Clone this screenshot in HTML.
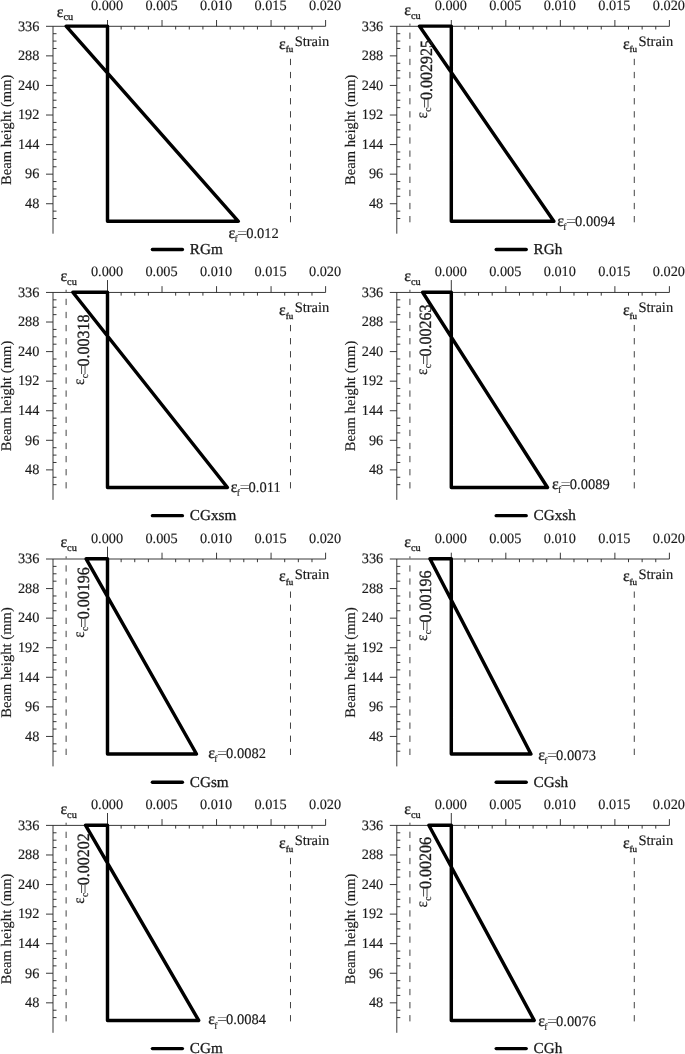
<!DOCTYPE html>
<html lang="en">
<head>
<meta charset="utf-8">
<title>Strain distribution</title>
<style>
html,body{margin:0;padding:0;background:#fff;}
body{width:685px;height:1054px;overflow:hidden;}
svg{display:block;}
text{font-family:"Liberation Serif","DejaVu Serif",serif;font-size:14.5px;fill:#1a1a1a;text-rendering:geometricPrecision;stroke:#1a1a1a;stroke-width:0.15px;}
.eps{font-size:16px;stroke-width:0.3px;}
.sub{font-size:10.3px;}
.ti{font-size:14.65px;}
.lgt{font-size:15.2px;stroke-width:0.3px;}
.tk{font-size:14.3px;}
.eq{stroke:none;fill:#333;}
.subfu{font-size:9px;}
.subf{font-size:9.5px;}
.subc{font-size:9.5px;}
.epr{font-size:15px;}
.n{font-size:14.5px;}
.ax{stroke:#222;stroke-width:0.9;fill:none;}
.da{stroke:#444;stroke-width:1;fill:none;stroke-dasharray:6.3 6.8;}
.pl{stroke:#000;stroke-width:3.45;fill:none;stroke-linejoin:round;}
.lg{stroke:#000;stroke-width:3.4;fill:none;stroke-linecap:round;}
</style>
</head>
<body>
<svg width="685" height="1054" viewBox="0 0 685 1054">
<rect width="685" height="1054" fill="#fff"/>
<g>
<path class="ax" d="M46 26.3H325.6M53 26.3V233.7"/>
<path class="ax" d="M107.5 26.3v-6.3M162.03 26.3v-6.3M216.55 26.3v-6.3M271.07 26.3v-6.3M325.6 26.3v-6.3M121.13 26.3v3.2M134.76 26.3v3.2M148.39 26.3v3.2M175.66 26.3v3.2M189.29 26.3v3.2M202.92 26.3v3.2M230.18 26.3v3.2M243.81 26.3v3.2M257.44 26.3v3.2M284.71 26.3v3.2M298.34 26.3v3.2M311.97 26.3v3.2M53 55.87h-7M53 85.45h-7M53 115.02h-7M53 144.59h-7M53 174.16h-7M53 203.74h-7M53 33.69h3.5M53 41.09h3.5M53 48.48h3.5M53 63.27h3.5M53 70.66h3.5M53 78.05h3.5M53 92.84h3.5M53 100.23h3.5M53 107.63h3.5M53 122.41h3.5M53 129.8h3.5M53 137.2h3.5M53 151.98h3.5M53 159.38h3.5M53 166.77h3.5M53 181.56h3.5M53 188.95h3.5M53 196.34h3.5M53 211.13h3.5M53 218.52h3.5"/>
<text x="107" y="10.2" text-anchor="middle" class="tk">0.000</text>
<text x="161.53" y="10.2" text-anchor="middle" class="tk">0.005</text>
<text x="216.05" y="10.2" text-anchor="middle" class="tk">0.010</text>
<text x="270.57" y="10.2" text-anchor="middle" class="tk">0.015</text>
<text x="325.1" y="10.2" text-anchor="middle" class="tk">0.020</text>
<text x="39.4" y="30.6" text-anchor="end" class="tk">336</text>
<text x="39.4" y="60.17" text-anchor="end" class="tk">288</text>
<text x="39.4" y="89.75" text-anchor="end" class="tk">240</text>
<text x="39.4" y="119.32" text-anchor="end" class="tk">192</text>
<text x="39.4" y="148.89" text-anchor="end" class="tk">144</text>
<text x="39.4" y="178.46" text-anchor="end" class="tk">96</text>
<text x="39.4" y="208.04" text-anchor="end" class="tk">48</text>
<text transform="translate(11 129.8) rotate(-90)" text-anchor="middle" class="ti">Beam height (mm)</text>
<text x="294.7" y="45.8">Strain</text>
<text x="279.1" y="48.5" class="eps">ε<tspan class="subfu" dy="3.9">fu</tspan></text>
<text x="56.7" y="16.7" class="eps">ε<tspan class="sub" dy="3.5">cu</tspan></text>
<path class="da" d="M290.49 58.8V222.3"/>
<path class="pl" d="M107.5 26.1H66.12L238.36 221.3H107.5Z"/>
<g transform="translate(229 237.7)"><text x="-0.62" y="0" class="eps">ε</text><text x="5.4" y="4.3" class="subf">f</text><text transform="translate(8 0) scale(1.25 1)" class="eq">=</text><text x="17.2" y="0">0.012</text></g>
<path class="lg" d="M152.4 249.5h30"/>
<text x="189.8" y="254.2" class="lgt">RGm</text>
</g>
<g>
<path class="ax" d="M389.8 26.3H669.4M396.8 26.3V233.7"/>
<path class="ax" d="M451.3 26.3v-6.3M505.82 26.3v-6.3M560.35 26.3v-6.3M614.88 26.3v-6.3M669.4 26.3v-6.3M464.93 26.3v3.2M478.56 26.3v3.2M492.19 26.3v3.2M519.46 26.3v3.2M533.09 26.3v3.2M546.72 26.3v3.2M573.98 26.3v3.2M587.61 26.3v3.2M601.24 26.3v3.2M628.51 26.3v3.2M642.14 26.3v3.2M655.77 26.3v3.2M396.8 55.87h-7M396.8 85.45h-7M396.8 115.02h-7M396.8 144.59h-7M396.8 174.16h-7M396.8 203.74h-7M396.8 33.69h3.5M396.8 41.09h3.5M396.8 48.48h3.5M396.8 63.27h3.5M396.8 70.66h3.5M396.8 78.05h3.5M396.8 92.84h3.5M396.8 100.23h3.5M396.8 107.63h3.5M396.8 122.41h3.5M396.8 129.8h3.5M396.8 137.2h3.5M396.8 151.98h3.5M396.8 159.38h3.5M396.8 166.77h3.5M396.8 181.56h3.5M396.8 188.95h3.5M396.8 196.34h3.5M396.8 211.13h3.5M396.8 218.52h3.5"/>
<text x="450.8" y="10.2" text-anchor="middle" class="tk">0.000</text>
<text x="505.32" y="10.2" text-anchor="middle" class="tk">0.005</text>
<text x="559.85" y="10.2" text-anchor="middle" class="tk">0.010</text>
<text x="614.38" y="10.2" text-anchor="middle" class="tk">0.015</text>
<text x="668.9" y="10.2" text-anchor="middle" class="tk">0.020</text>
<text x="383.2" y="30.6" text-anchor="end" class="tk">336</text>
<text x="383.2" y="60.17" text-anchor="end" class="tk">288</text>
<text x="383.2" y="89.75" text-anchor="end" class="tk">240</text>
<text x="383.2" y="119.32" text-anchor="end" class="tk">192</text>
<text x="383.2" y="148.89" text-anchor="end" class="tk">144</text>
<text x="383.2" y="178.46" text-anchor="end" class="tk">96</text>
<text x="383.2" y="208.04" text-anchor="end" class="tk">48</text>
<text transform="translate(354.8 129.8) rotate(-90)" text-anchor="middle" class="ti">Beam height (mm)</text>
<text x="638.5" y="45.8">Strain</text>
<text x="622.9" y="48.5" class="eps">ε<tspan class="subfu" dy="3.9">fu</tspan></text>
<text x="404.2" y="14.7" class="eps">ε<tspan class="sub" dy="3.8">cu</tspan></text>
<path class="da" d="M634.29 58.8V222.3"/>
<path class="da" style="stroke-dashoffset:4.1" d="M409.92 23.6V222.3"/>
<path class="pl" d="M451.3 26.1H419.4L553.81 221.3H451.3Z"/>
<g transform="translate(557.9 225.8)"><text x="-0.62" y="0" class="eps">ε</text><text x="5.4" y="4.3" class="subf">f</text><text transform="translate(8 0) scale(1.25 1)" class="eq">=</text><text x="17.2" y="0">0.0094</text></g>
<g transform="translate(431.8 117.8) rotate(-90) scale(1 1.07)"><text x="-0.58" y="-4.2" class="epr">ε</text><text x="6.1" y="-0.3" class="subc">c</text><text transform="translate(9.3 0) scale(1.1 1)" class="eps eq">=</text><text x="17.9" y="0" class="eps">0.002925</text></g>
<path class="lg" d="M496.2 249.5h30"/>
<text x="533.6" y="254.2" class="lgt">RGh</text>
</g>
<g>
<path class="ax" d="M46 292.45H325.6M53 292.45V499.85"/>
<path class="ax" d="M107.5 292.45v-12.4M162.03 292.45v-6.3M216.55 292.45v-6.3M271.07 292.45v-6.3M325.6 292.45v-6.3M121.13 292.45v3.2M134.76 292.45v3.2M148.39 292.45v3.2M175.66 292.45v3.2M189.29 292.45v3.2M202.92 292.45v3.2M230.18 292.45v3.2M243.81 292.45v3.2M257.44 292.45v3.2M284.71 292.45v3.2M298.34 292.45v3.2M311.97 292.45v3.2M53 322.02h-7M53 351.6h-7M53 381.17h-7M53 410.74h-7M53 440.31h-7M53 469.89h-7M53 299.84h3.5M53 307.24h3.5M53 314.63h3.5M53 329.42h3.5M53 336.81h3.5M53 344.2h3.5M53 358.99h3.5M53 366.38h3.5M53 373.78h3.5M53 388.56h3.5M53 395.95h3.5M53 403.35h3.5M53 418.13h3.5M53 425.53h3.5M53 432.92h3.5M53 447.71h3.5M53 455.1h3.5M53 462.49h3.5M53 477.28h3.5M53 484.67h3.5"/>
<text x="107" y="276.35" text-anchor="middle" class="tk">0.000</text>
<text x="161.53" y="276.35" text-anchor="middle" class="tk">0.005</text>
<text x="216.05" y="276.35" text-anchor="middle" class="tk">0.010</text>
<text x="270.57" y="276.35" text-anchor="middle" class="tk">0.015</text>
<text x="325.1" y="276.35" text-anchor="middle" class="tk">0.020</text>
<text x="39.4" y="296.75" text-anchor="end" class="tk">336</text>
<text x="39.4" y="326.32" text-anchor="end" class="tk">288</text>
<text x="39.4" y="355.9" text-anchor="end" class="tk">240</text>
<text x="39.4" y="385.47" text-anchor="end" class="tk">192</text>
<text x="39.4" y="415.04" text-anchor="end" class="tk">144</text>
<text x="39.4" y="444.61" text-anchor="end" class="tk">96</text>
<text x="39.4" y="474.19" text-anchor="end" class="tk">48</text>
<text transform="translate(11 395.95) rotate(-90)" text-anchor="middle" class="ti">Beam height (mm)</text>
<text x="294.7" y="311.95">Strain</text>
<text x="279.1" y="314.65" class="eps">ε<tspan class="subfu" dy="3.9">fu</tspan></text>
<text x="60.4" y="280.85" class="eps">ε<tspan class="sub" dy="3.8">cu</tspan></text>
<path class="da" d="M290.49 324.95V488.45"/>
<path class="da" style="stroke-dashoffset:4.1" d="M66.12 289.75V488.45"/>
<path class="pl" d="M107.5 292.25H72.82L227.45 487.45H107.5Z"/>
<g transform="translate(231.4 491.8)"><text x="-0.62" y="0" class="eps">ε</text><text x="5.4" y="4.3" class="subf">f</text><text transform="translate(8 0) scale(1.25 1)" class="eq">=</text><text x="17.2" y="0">0.011</text></g>
<g transform="translate(88.6 384.3) rotate(-90) scale(1 1.07)"><text x="-0.58" y="-4.2" class="epr">ε</text><text x="6.1" y="-0.3" class="subc">c</text><text transform="translate(9.3 0) scale(1.1 1)" class="eps eq">=</text><text x="17.9" y="0" class="eps">0.00318</text></g>
<path class="lg" d="M152.4 515.65h30"/>
<text x="189.8" y="520.35" class="lgt">CGxsm</text>
</g>
<g>
<path class="ax" d="M389.8 292.45H669.4M396.8 292.45V499.85"/>
<path class="ax" d="M451.3 292.45v-12.4M505.82 292.45v-6.3M560.35 292.45v-6.3M614.88 292.45v-6.3M669.4 292.45v-6.3M464.93 292.45v3.2M478.56 292.45v3.2M492.19 292.45v3.2M519.46 292.45v3.2M533.09 292.45v3.2M546.72 292.45v3.2M573.98 292.45v3.2M587.61 292.45v3.2M601.24 292.45v3.2M628.51 292.45v3.2M642.14 292.45v3.2M655.77 292.45v3.2M396.8 322.02h-7M396.8 351.6h-7M396.8 381.17h-7M396.8 410.74h-7M396.8 440.31h-7M396.8 469.89h-7M396.8 299.84h3.5M396.8 307.24h3.5M396.8 314.63h3.5M396.8 329.42h3.5M396.8 336.81h3.5M396.8 344.2h3.5M396.8 358.99h3.5M396.8 366.38h3.5M396.8 373.78h3.5M396.8 388.56h3.5M396.8 395.95h3.5M396.8 403.35h3.5M396.8 418.13h3.5M396.8 425.53h3.5M396.8 432.92h3.5M396.8 447.71h3.5M396.8 455.1h3.5M396.8 462.49h3.5M396.8 477.28h3.5M396.8 484.67h3.5"/>
<text x="450.8" y="276.35" text-anchor="middle" class="tk">0.000</text>
<text x="505.32" y="276.35" text-anchor="middle" class="tk">0.005</text>
<text x="559.85" y="276.35" text-anchor="middle" class="tk">0.010</text>
<text x="614.38" y="276.35" text-anchor="middle" class="tk">0.015</text>
<text x="668.9" y="276.35" text-anchor="middle" class="tk">0.020</text>
<text x="383.2" y="296.75" text-anchor="end" class="tk">336</text>
<text x="383.2" y="326.32" text-anchor="end" class="tk">288</text>
<text x="383.2" y="355.9" text-anchor="end" class="tk">240</text>
<text x="383.2" y="385.47" text-anchor="end" class="tk">192</text>
<text x="383.2" y="415.04" text-anchor="end" class="tk">144</text>
<text x="383.2" y="444.61" text-anchor="end" class="tk">96</text>
<text x="383.2" y="474.19" text-anchor="end" class="tk">48</text>
<text transform="translate(354.8 395.95) rotate(-90)" text-anchor="middle" class="ti">Beam height (mm)</text>
<text x="638.5" y="311.95">Strain</text>
<text x="622.9" y="314.65" class="eps">ε<tspan class="subfu" dy="3.9">fu</tspan></text>
<text x="404.2" y="280.85" class="eps">ε<tspan class="sub" dy="3.8">cu</tspan></text>
<path class="da" d="M634.29 324.95V488.45"/>
<path class="da" style="stroke-dashoffset:4.1" d="M409.92 289.75V488.45"/>
<path class="pl" d="M451.3 292.25H422.62L547.48 487.45H451.3Z"/>
<g transform="translate(552.6 488.6)"><text x="-0.62" y="0" class="eps">ε</text><text x="5.4" y="4.3" class="subf">f</text><text transform="translate(8 0) scale(1.25 1)" class="eq">=</text><text x="17.2" y="0">0.0089</text></g>
<g transform="translate(431.4 374.4) rotate(-90) scale(1 1.07)"><text x="-0.58" y="-4.2" class="epr">ε</text><text x="6.1" y="-0.3" class="subc">c</text><text transform="translate(9.3 0) scale(1.1 1)" class="eps eq">=</text><text x="17.9" y="0" class="eps">0.00263</text></g>
<path class="lg" d="M496.2 515.65h30"/>
<text x="533.6" y="520.35" class="lgt">CGxsh</text>
</g>
<g>
<path class="ax" d="M46 559H325.6M53 559V766.4"/>
<path class="ax" d="M107.5 559v-12.4M162.03 559v-6.3M216.55 559v-6.3M271.07 559v-6.3M325.6 559v-6.3M121.13 559v3.2M134.76 559v3.2M148.39 559v3.2M175.66 559v3.2M189.29 559v3.2M202.92 559v3.2M230.18 559v3.2M243.81 559v3.2M257.44 559v3.2M284.71 559v3.2M298.34 559v3.2M311.97 559v3.2M53 588.57h-7M53 618.15h-7M53 647.72h-7M53 677.29h-7M53 706.86h-7M53 736.44h-7M53 566.39h3.5M53 573.79h3.5M53 581.18h3.5M53 595.97h3.5M53 603.36h3.5M53 610.75h3.5M53 625.54h3.5M53 632.93h3.5M53 640.33h3.5M53 655.11h3.5M53 662.5h3.5M53 669.9h3.5M53 684.68h3.5M53 692.08h3.5M53 699.47h3.5M53 714.26h3.5M53 721.65h3.5M53 729.04h3.5M53 743.83h3.5M53 751.22h3.5"/>
<text x="107" y="542.9" text-anchor="middle" class="tk">0.000</text>
<text x="161.53" y="542.9" text-anchor="middle" class="tk">0.005</text>
<text x="216.05" y="542.9" text-anchor="middle" class="tk">0.010</text>
<text x="270.57" y="542.9" text-anchor="middle" class="tk">0.015</text>
<text x="325.1" y="542.9" text-anchor="middle" class="tk">0.020</text>
<text x="39.4" y="563.3" text-anchor="end" class="tk">336</text>
<text x="39.4" y="592.87" text-anchor="end" class="tk">288</text>
<text x="39.4" y="622.45" text-anchor="end" class="tk">240</text>
<text x="39.4" y="652.02" text-anchor="end" class="tk">192</text>
<text x="39.4" y="681.59" text-anchor="end" class="tk">144</text>
<text x="39.4" y="711.16" text-anchor="end" class="tk">96</text>
<text x="39.4" y="740.74" text-anchor="end" class="tk">48</text>
<text transform="translate(11 662.5) rotate(-90)" text-anchor="middle" class="ti">Beam height (mm)</text>
<text x="294.7" y="578.5">Strain</text>
<text x="279.1" y="581.2" class="eps">ε<tspan class="subfu" dy="3.9">fu</tspan></text>
<text x="60.4" y="547.4" class="eps">ε<tspan class="sub" dy="3.8">cu</tspan></text>
<path class="da" d="M290.49 591.5V755"/>
<path class="da" style="stroke-dashoffset:4.1" d="M66.12 556.3V755"/>
<path class="pl" d="M107.5 558.8H86.13L196.48 754H107.5Z"/>
<g transform="translate(208.9 757.8)"><text x="-0.62" y="0" class="eps">ε</text><text x="5.4" y="4.3" class="subf">f</text><text transform="translate(8 0) scale(1.25 1)" class="eq">=</text><text x="17.2" y="0">0.0082</text></g>
<g transform="translate(88.6 637.2) rotate(-90) scale(1 1.07)"><text x="-0.58" y="-4.2" class="epr">ε</text><text x="6.1" y="-0.3" class="subc">c</text><text transform="translate(9.3 0) scale(1.1 1)" class="eps eq">=</text><text x="17.9" y="0" class="eps">0.00196</text></g>
<path class="lg" d="M152.4 782.2h30"/>
<text x="189.8" y="786.9" class="lgt">CGsm</text>
</g>
<g>
<path class="ax" d="M389.8 559H669.4M396.8 559V766.4"/>
<path class="ax" d="M451.3 559v-6.3M505.82 559v-6.3M560.35 559v-6.3M614.88 559v-6.3M669.4 559v-6.3M464.93 559v3.2M478.56 559v3.2M492.19 559v3.2M519.46 559v3.2M533.09 559v3.2M546.72 559v3.2M573.98 559v3.2M587.61 559v3.2M601.24 559v3.2M628.51 559v3.2M642.14 559v3.2M655.77 559v3.2M396.8 588.57h-7M396.8 618.15h-7M396.8 647.72h-7M396.8 677.29h-7M396.8 706.86h-7M396.8 736.44h-7M396.8 566.39h3.5M396.8 573.79h3.5M396.8 581.18h3.5M396.8 595.97h3.5M396.8 603.36h3.5M396.8 610.75h3.5M396.8 625.54h3.5M396.8 632.93h3.5M396.8 640.33h3.5M396.8 655.11h3.5M396.8 662.5h3.5M396.8 669.9h3.5M396.8 684.68h3.5M396.8 692.08h3.5M396.8 699.47h3.5M396.8 714.26h3.5M396.8 721.65h3.5M396.8 729.04h3.5M396.8 743.83h3.5M396.8 751.22h3.5"/>
<text x="450.8" y="542.9" text-anchor="middle" class="tk">0.000</text>
<text x="505.32" y="542.9" text-anchor="middle" class="tk">0.005</text>
<text x="559.85" y="542.9" text-anchor="middle" class="tk">0.010</text>
<text x="614.38" y="542.9" text-anchor="middle" class="tk">0.015</text>
<text x="668.9" y="542.9" text-anchor="middle" class="tk">0.020</text>
<text x="383.2" y="563.3" text-anchor="end" class="tk">336</text>
<text x="383.2" y="592.87" text-anchor="end" class="tk">288</text>
<text x="383.2" y="622.45" text-anchor="end" class="tk">240</text>
<text x="383.2" y="652.02" text-anchor="end" class="tk">192</text>
<text x="383.2" y="681.59" text-anchor="end" class="tk">144</text>
<text x="383.2" y="711.16" text-anchor="end" class="tk">96</text>
<text x="383.2" y="740.74" text-anchor="end" class="tk">48</text>
<text transform="translate(354.8 662.5) rotate(-90)" text-anchor="middle" class="ti">Beam height (mm)</text>
<text x="638.5" y="578.5">Strain</text>
<text x="622.9" y="581.2" class="eps">ε<tspan class="subfu" dy="3.9">fu</tspan></text>
<text x="404.2" y="547.4" class="eps">ε<tspan class="sub" dy="3.8">cu</tspan></text>
<path class="da" d="M634.29 591.5V755"/>
<path class="da" style="stroke-dashoffset:4.1" d="M409.92 556.3V755"/>
<path class="pl" d="M451.3 558.8H429.93L530.91 754H451.3Z"/>
<g transform="translate(538.9 759.9)"><text x="-0.62" y="0" class="eps">ε</text><text x="5.4" y="4.3" class="subf">f</text><text transform="translate(8 0) scale(1.25 1)" class="eq">=</text><text x="17.2" y="0">0.0073</text></g>
<g transform="translate(431.4 640.4) rotate(-90) scale(1 1.07)"><text x="-0.58" y="-4.2" class="epr">ε</text><text x="6.1" y="-0.3" class="subc">c</text><text transform="translate(9.3 0) scale(1.1 1)" class="eps eq">=</text><text x="17.9" y="0" class="eps">0.00196</text></g>
<path class="lg" d="M496.2 782.2h30"/>
<text x="533.6" y="786.9" class="lgt">CGsh</text>
</g>
<g>
<path class="ax" d="M46 825.4H325.6M53 825.4V1032.8"/>
<path class="ax" d="M107.5 825.4v-12.4M162.03 825.4v-6.3M216.55 825.4v-6.3M271.07 825.4v-6.3M325.6 825.4v-6.3M121.13 825.4v3.2M134.76 825.4v3.2M148.39 825.4v3.2M175.66 825.4v3.2M189.29 825.4v3.2M202.92 825.4v3.2M230.18 825.4v3.2M243.81 825.4v3.2M257.44 825.4v3.2M284.71 825.4v3.2M298.34 825.4v3.2M311.97 825.4v3.2M53 854.97h-7M53 884.55h-7M53 914.12h-7M53 943.69h-7M53 973.26h-7M53 1002.84h-7M53 832.79h3.5M53 840.19h3.5M53 847.58h3.5M53 862.37h3.5M53 869.76h3.5M53 877.15h3.5M53 891.94h3.5M53 899.33h3.5M53 906.73h3.5M53 921.51h3.5M53 928.9h3.5M53 936.3h3.5M53 951.08h3.5M53 958.48h3.5M53 965.87h3.5M53 980.66h3.5M53 988.05h3.5M53 995.44h3.5M53 1010.23h3.5M53 1017.62h3.5"/>
<text x="107" y="809.3" text-anchor="middle" class="tk">0.000</text>
<text x="161.53" y="809.3" text-anchor="middle" class="tk">0.005</text>
<text x="216.05" y="809.3" text-anchor="middle" class="tk">0.010</text>
<text x="270.57" y="809.3" text-anchor="middle" class="tk">0.015</text>
<text x="325.1" y="809.3" text-anchor="middle" class="tk">0.020</text>
<text x="39.4" y="829.7" text-anchor="end" class="tk">336</text>
<text x="39.4" y="859.27" text-anchor="end" class="tk">288</text>
<text x="39.4" y="888.85" text-anchor="end" class="tk">240</text>
<text x="39.4" y="918.42" text-anchor="end" class="tk">192</text>
<text x="39.4" y="947.99" text-anchor="end" class="tk">144</text>
<text x="39.4" y="977.56" text-anchor="end" class="tk">96</text>
<text x="39.4" y="1007.14" text-anchor="end" class="tk">48</text>
<text transform="translate(11 928.9) rotate(-90)" text-anchor="middle" class="ti">Beam height (mm)</text>
<text x="294.7" y="844.9">Strain</text>
<text x="279.1" y="847.6" class="eps">ε<tspan class="subfu" dy="3.9">fu</tspan></text>
<text x="60.4" y="813.8" class="eps">ε<tspan class="sub" dy="3.8">cu</tspan></text>
<path class="da" d="M290.49 857.9V1021.4"/>
<path class="da" style="stroke-dashoffset:4.1" d="M66.12 822.7V1021.4"/>
<path class="pl" d="M107.5 825.2H85.47L198.67 1020.4H107.5Z"/>
<g transform="translate(208.9 1024.4)"><text x="-0.62" y="0" class="eps">ε</text><text x="5.4" y="4.3" class="subf">f</text><text transform="translate(8 0) scale(1.25 1)" class="eq">=</text><text x="17.2" y="0">0.0084</text></g>
<g transform="translate(88.6 903.2) rotate(-90) scale(1 1.07)"><text x="-0.58" y="-4.2" class="epr">ε</text><text x="6.1" y="-0.3" class="subc">c</text><text transform="translate(9.3 0) scale(1.1 1)" class="eps eq">=</text><text x="17.9" y="0" class="eps">0.00202</text></g>
<path class="lg" d="M152.4 1048.6h30"/>
<text x="189.8" y="1053.3" class="lgt">CGm</text>
</g>
<g>
<path class="ax" d="M389.8 825.4H669.4M396.8 825.4V1032.8"/>
<path class="ax" d="M451.3 825.4v-12.4M505.82 825.4v-6.3M560.35 825.4v-6.3M614.88 825.4v-6.3M669.4 825.4v-6.3M464.93 825.4v3.2M478.56 825.4v3.2M492.19 825.4v3.2M519.46 825.4v3.2M533.09 825.4v3.2M546.72 825.4v3.2M573.98 825.4v3.2M587.61 825.4v3.2M601.24 825.4v3.2M628.51 825.4v3.2M642.14 825.4v3.2M655.77 825.4v3.2M396.8 854.97h-7M396.8 884.55h-7M396.8 914.12h-7M396.8 943.69h-7M396.8 973.26h-7M396.8 1002.84h-7M396.8 832.79h3.5M396.8 840.19h3.5M396.8 847.58h3.5M396.8 862.37h3.5M396.8 869.76h3.5M396.8 877.15h3.5M396.8 891.94h3.5M396.8 899.33h3.5M396.8 906.73h3.5M396.8 921.51h3.5M396.8 928.9h3.5M396.8 936.3h3.5M396.8 951.08h3.5M396.8 958.48h3.5M396.8 965.87h3.5M396.8 980.66h3.5M396.8 988.05h3.5M396.8 995.44h3.5M396.8 1010.23h3.5M396.8 1017.62h3.5"/>
<text x="450.8" y="809.3" text-anchor="middle" class="tk">0.000</text>
<text x="505.32" y="809.3" text-anchor="middle" class="tk">0.005</text>
<text x="559.85" y="809.3" text-anchor="middle" class="tk">0.010</text>
<text x="614.38" y="809.3" text-anchor="middle" class="tk">0.015</text>
<text x="668.9" y="809.3" text-anchor="middle" class="tk">0.020</text>
<text x="383.2" y="829.7" text-anchor="end" class="tk">336</text>
<text x="383.2" y="859.27" text-anchor="end" class="tk">288</text>
<text x="383.2" y="888.85" text-anchor="end" class="tk">240</text>
<text x="383.2" y="918.42" text-anchor="end" class="tk">192</text>
<text x="383.2" y="947.99" text-anchor="end" class="tk">144</text>
<text x="383.2" y="977.56" text-anchor="end" class="tk">96</text>
<text x="383.2" y="1007.14" text-anchor="end" class="tk">48</text>
<text transform="translate(354.8 928.9) rotate(-90)" text-anchor="middle" class="ti">Beam height (mm)</text>
<text x="638.5" y="844.9">Strain</text>
<text x="622.9" y="847.6" class="eps">ε<tspan class="subfu" dy="3.9">fu</tspan></text>
<text x="404.2" y="813.8" class="eps">ε<tspan class="sub" dy="3.8">cu</tspan></text>
<path class="da" d="M634.29 857.9V1021.4"/>
<path class="da" style="stroke-dashoffset:4.1" d="M409.92 822.7V1021.4"/>
<path class="pl" d="M451.3 825.2H428.84L534.18 1020.4H451.3Z"/>
<g transform="translate(538.9 1025.7)"><text x="-0.62" y="0" class="eps">ε</text><text x="5.4" y="4.3" class="subf">f</text><text transform="translate(8 0) scale(1.25 1)" class="eq">=</text><text x="17.2" y="0">0.0076</text></g>
<g transform="translate(431.4 906.8) rotate(-90) scale(1 1.07)"><text x="-0.58" y="-4.2" class="epr">ε</text><text x="6.1" y="-0.3" class="subc">c</text><text transform="translate(9.3 0) scale(1.1 1)" class="eps eq">=</text><text x="17.9" y="0" class="eps">0.00206</text></g>
<path class="lg" d="M496.2 1048.6h30"/>
<text x="533.6" y="1053.3" class="lgt">CGh</text>
</g>
</svg>
</body>
</html>
